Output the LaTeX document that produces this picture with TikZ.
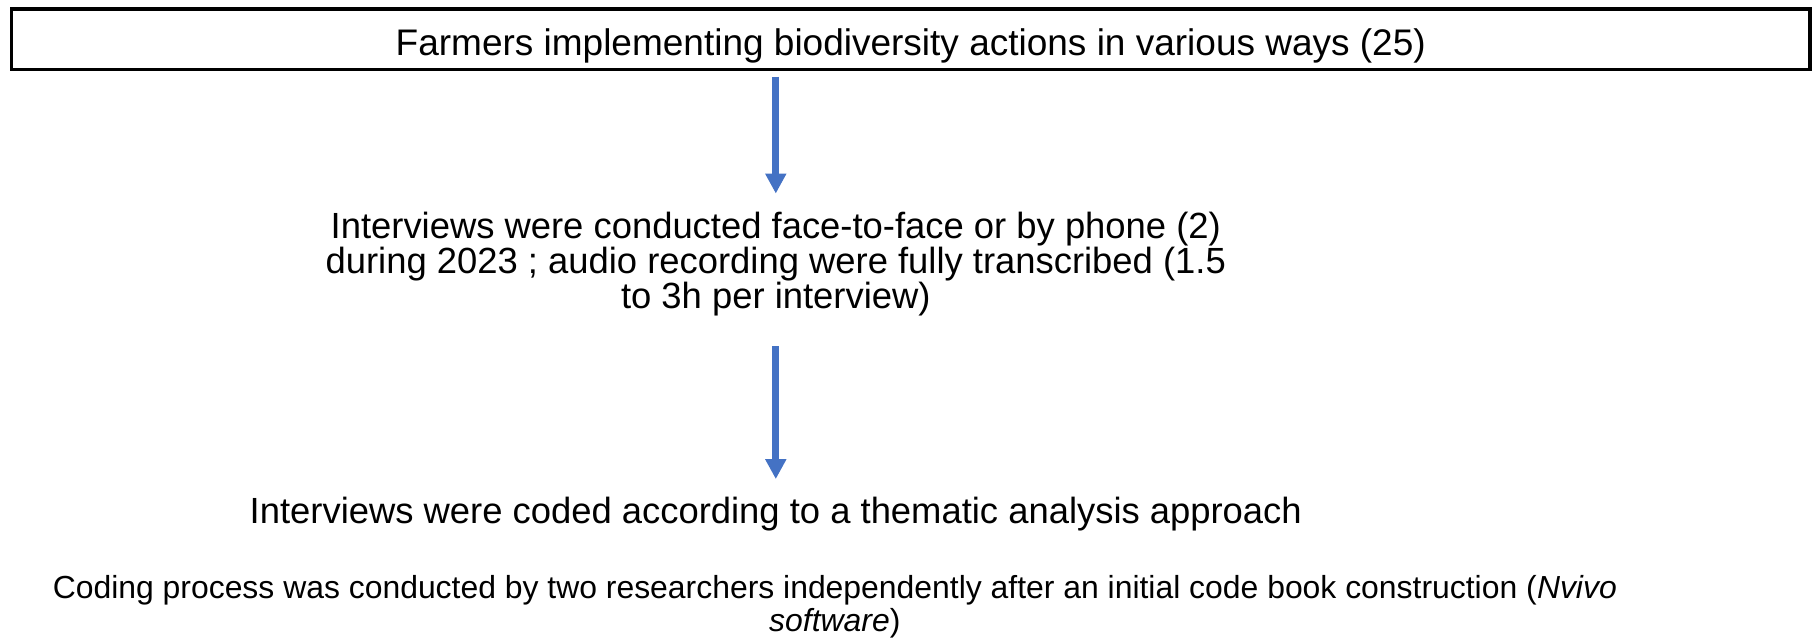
\documentclass[tikz,border=0pt]{standalone}
\usepackage{fontspec}
\setmainfont{Liberation Sans}
\usepackage{xcolor}
\usepackage{tikz}
\usetikzlibrary{positioning,arrows.meta}
\definecolor{flowblue}{HTML}{4472C4}

\begin{document}
\begin{tikzpicture}[
  box/.style={rectangle, draw, line width=1.6pt, inner sep=0pt,
    minimum width=899.25pt, minimum height=30.25pt,
    text height=20.4pt, text depth=3.9pt,
    font=\fontsize{18.5pt}{17.65pt}\selectfont},
  txt/.style={inner sep=0pt, align=center,
    font=\fontsize{18.2pt}{17.65pt}\selectfont},
  note/.style={txt, font=\fontsize{15.95pt}{16.5pt}\selectfont},
  flow/.style={draw=flowblue, line width=3.5pt,
    -{Triangle[width=10pt, length=10pt]}}
]
\useasboundingbox (-455.4pt,-299.4pt) rectangle (452.1pt,19.6pt);

% ── Nodes ──
\node[box] (farmers)
  {Farmers implementing biodiversity actions in various ways (25)};
\node[txt, below=70.1pt of farmers, xshift=-67.5pt] (interv)
  {Interviews were conducted face-to-face or by phone (2)\\
   during 2023 ; audio recording were fully transcribed (1.5\\
   to 3h per interview)};
\node[txt, below=90pt of interv] (coded)
  {Interviews were coded according to a thematic analysis approach};
\node[note, below=21.9pt of coded, xshift=29.5pt] (coding)
  {Coding process was conducted by two researchers independently after an initial code book construction (\textit{Nvivo}\\
   \textit{software})};

% ── Flow ──
\draw[flow, shorten <=2.75pt, shorten >=8.85pt]
  (farmers.south -| interv.north) -- (interv.north);
\draw[flow, shorten <=14.8pt, shorten >=8.75pt]
  (interv.south) -- (coded.north);

\end{tikzpicture}
\end{document}
